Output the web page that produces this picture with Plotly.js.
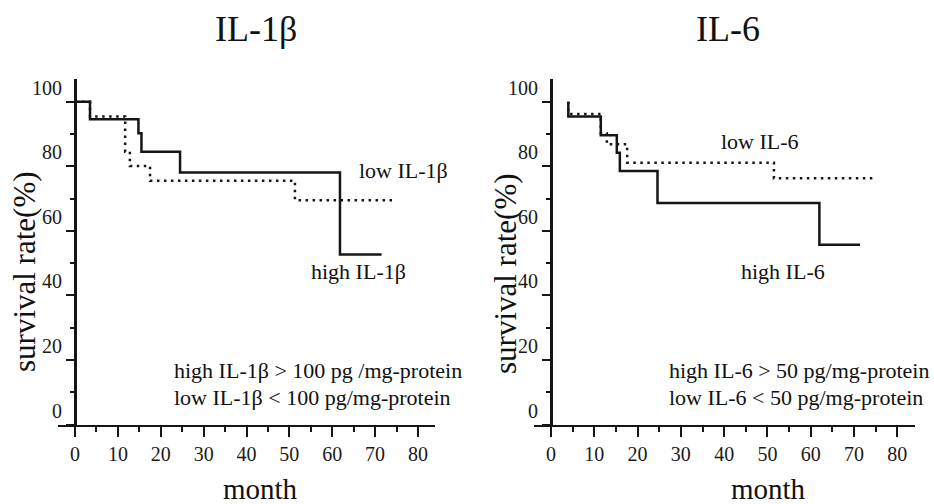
<!DOCTYPE html>
<html><head><meta charset="utf-8">
<script src="https://cdn.plot.ly/plotly-3.0.1.min.js"></script>
<style>html,body{margin:0;padding:0;background:#fff}</style>
</head><body>
<div id="chart" style="width:934px;height:504px"></div>
<script>
// Panel titles
const panelTitles = ["IL-1β", "IL-6"];
// Left panel: IL-1β (Kaplan-Meier steps, month / survival %)
const monthsHighIL1b = [0, 3.5, 14.8, 15.5, 24.5, 61.8, 71.5];
const survHighIL1b   = [100, 94.6, 90.2, 84.5, 78.1, 52.7, 52.7];
const monthsLowIL1b  = [0, 3.5, 11.7, 12.8, 17.5, 51.3, 74.6];
const survLowIL1b    = [100, 95.4, 84.5, 80.1, 75.5, 69.5, 69.5];
// Right panel: IL-6
const monthsHighIL6 = [4, 4, 11.5, 15.2, 15.9, 24.6, 62.0, 71.4];
const survHighIL6   = [100, 95.4, 89.6, 84.2, 78.5, 68.6, 55.7, 55.7];
const monthsLowIL6  = [4, 4, 11.5, 12.9, 17.6, 51.5, 74.5];
const survLowIL6    = [100, 96.2, 90.2, 86.8, 81.1, 76.3, 76.3];
// Text labels
const xTitle = "month";
const yTitle = "survival rate(%)";
const seriesLabelsL = ["high IL-1β", "low IL-1β"];
const seriesLabelsR = ["high IL-6", "low IL-6"];
const noteL = ["high IL-1β > 100 pg /mg-protein", "low IL-1β < 100 pg/mg-protein"];
const noteR = ["high IL-6 > 50 pg/mg-protein", "low IL-6 < 50 pg/mg-protein"];

const W = 934, H = 504;
const FONT = "Liberation Serif";
const INK = "#151515";
const solid = {color: INK, width: 2.5, shape: "hv"};
const dotted = {color: INK, width: 2.5, shape: "hv", dash: "2.5px,4.5px"};

const traces = [
  {x: monthsHighIL1b, y: survHighIL1b, mode: "lines", line: solid, xaxis: "x", yaxis: "y", name: seriesLabelsL[0]},
  {x: monthsLowIL1b, y: survLowIL1b, mode: "lines", line: dotted, xaxis: "x", yaxis: "y", name: seriesLabelsL[1]},
  {x: monthsHighIL6, y: survHighIL6, mode: "lines", line: solid, xaxis: "x2", yaxis: "y2", name: seriesLabelsR[0]},
  {x: monthsLowIL6, y: survLowIL6, mode: "lines", line: dotted, xaxis: "x2", yaxis: "y2", name: seriesLabelsR[1]}
];

const px = v => v / W, py = v => 1 - v / H;
const yDom = [py(424.5), py(79.1)];

function xAx(dom, anchor) {
  return {
    domain: dom, anchor: anchor, range: [-4, 84],
    showline: true, linewidth: 2.5, linecolor: INK,
    showgrid: false, zeroline: false,
    tickmode: "linear", tick0: 0, dtick: 10,
    ticks: "outside", ticklen: 10, tickwidth: 2, tickcolor: INK,
    minor: {ticks: "outside", tick0: 0, dtick: 5, ticklen: 5, tickwidth: 2, tickcolor: INK, showgrid: false},
    tickfont: {family: FONT, size: 20, color: "#1a1a1a"},
    fixedrange: true
  };
}
function yAx(pos) {
  return {
    domain: yDom, anchor: "free", position: pos, range: [0, 107],
    showline: true, linewidth: 2.5, linecolor: INK,
    showgrid: false, zeroline: false,
    tickmode: "linear", tick0: 0, dtick: 20,
    ticks: "outside", ticklen: 8, tickwidth: 2, tickcolor: INK,
    minor: {ticks: "outside", tick0: 0, dtick: 10, ticklen: 4, tickwidth: 2, tickcolor: INK, showgrid: false},
    ticklabelshift: -14,
    tickfont: {family: FONT, size: 20, color: "#1a1a1a"},
    fixedrange: true
  };
}

function ann(text, x, y, size, opts) {
  return Object.assign({
    text: text, xref: "paper", yref: "paper", x: px(x), y: py(y),
    xanchor: "center", yanchor: "middle", showarrow: false,
    font: {family: FONT, size: size, color: "#111"}
  }, opts || {});
}

const annotations = [
  ann(panelTitles[0], 256, 29, 36),
  ann(panelTitles[1], 728, 29, 36),
  ann(yTitle, 24, 272, 31, {textangle: -90}),
  ann(yTitle, 505, 274, 31, {textangle: -90}),
  ann(xTitle, 260, 489, 29),
  ann(xTitle, 768, 489, 29),
  ann(seriesLabelsL[1], 403, 170, 22),
  ann(seriesLabelsL[0], 358, 271, 22),
  ann(seriesLabelsR[1], 760, 141, 22),
  ann(seriesLabelsR[0], 783, 271, 22),
  ann(noteL[0], 172, 370, 22, {xanchor: "left"}),
  ann(noteL[1], 172, 397, 22, {xanchor: "left"}),
  ann(noteR[0], 667, 370, 22, {xanchor: "left"}),
  ann(noteR[1], 667, 397, 22, {xanchor: "left"})
];

const layout = {
  width: W, height: H,
  margin: {l: 0, r: 0, t: 0, b: 0},
  paper_bgcolor: "#fff", plot_bgcolor: "#fff",
  showlegend: false,
  xaxis: xAx([px(57.85), px(435.15)], "y"),
  yaxis: yAx(px(75)),
  xaxis2: xAx([px(533.7), px(914.6)], "y2"),
  yaxis2: yAx(px(551)),
  annotations: annotations
};

Plotly.newPlot("chart", traces, layout, {displayModeBar: false, staticPlot: true});
</script>
</body></html>
